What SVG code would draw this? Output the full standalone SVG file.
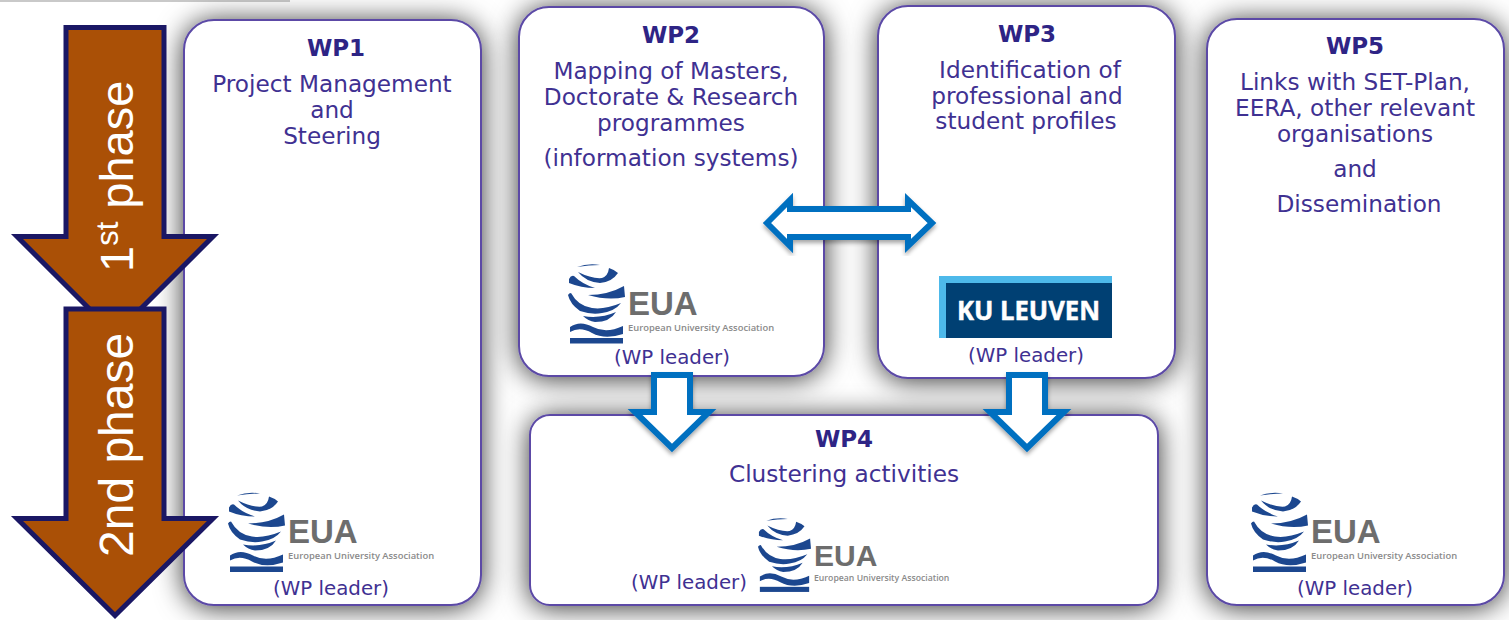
<svg xmlns="http://www.w3.org/2000/svg" xmlns:xlink="http://www.w3.org/1999/xlink" width="1509" height="620" viewBox="0 0 1509 620">
<style>
.box{fill:#fff;stroke:#5b4aa6;stroke-width:2;filter:url(#sh)}
.t{font-family:"DejaVu Sans",Verdana,sans-serif;text-anchor:middle;fill:#3f3192;font-size:23.2px}
.h{font-weight:700;fill:#2e2485;font-size:23px}
.l{font-size:19.800px}
.phase{fill:#aa5006;stroke:#1a1764;stroke-width:5;stroke-miterlimit:10}
.pt{font-family:"Liberation Sans",Arial,sans-serif;font-size:47px;fill:#fff}
.blue{fill:#fff;stroke:#0070c0;stroke-width:6;stroke-miterlimit:6;filter:url(#sh2)}
.eua{font-family:"Liberation Sans",Arial,sans-serif;font-weight:700;fill:#6d6d6d}
.eus{font-family:"Open Sans","Liberation Sans",sans-serif;font-weight:600;fill:#8a8a8a}
</style>
<defs>
<filter id="sh" x="-30%" y="-30%" width="160%" height="160%"><feDropShadow dx="0" dy="2" stdDeviation="14" flood-color="#000" flood-opacity=".8"/></filter>
<filter id="sh2" x="-20%" y="-20%" width="140%" height="140%"><feDropShadow dx="0" dy="3" stdDeviation="2" flood-color="#000" flood-opacity=".35"/></filter>
<g id="globe" fill="#1c478f">
<path d="M9 3Q20 -1 32 1Q21 1 9 3Z"/>
<path d="M10 8Q24 15 34 14Q40 12 41 4Q47 6 50 9Q44 18 32 19Q18 18 10 8Z"/>
<path d="M1 15Q3 11 6 12Q14 20 27 24Q13 24 1 19Z"/>
<path d="M20 31Q40 31 56 22L57 33Q40 37 20 31Z"/>
<path d="M0 31Q1 29 3 29Q10 42 24 44Q36 46 53 39Q47 47 34 49Q24 51 12 47Q2 40 0 31Z"/>
<path d="M15 52Q32 55 48 48Q42 58 27 58Q20 57 15 52Z"/>
<path d="M2 63Q12 56 25 63Q38 70 55 62L55 70Q37 76 24 69Q12 62 2 68Z"/>
<rect x="2" y="74" width="53" height="5.500"/>
</g>
</defs>
<rect width="1509" height="620" fill="#fff"/>
<rect x="0" y="0" width="290" height="2" fill="#c9c9c9"/>
<g id="wp1">
<rect class="box" x="184" y="20" width="297" height="585" rx="30"/>
<text class="t h" x="336" y="56">WP1</text>
<text class="t" x="332" y="92">Project Management</text>
<text class="t" x="332" y="118">and</text>
<text class="t" x="332" y="144">Steering</text>
<use xlink:href="#globe" href="#globe" transform="translate(228 492.500)"/>
<text class="eua" x="288" y="543" font-size="33">EUA</text>
<text class="eus" x="288" y="559" font-size="9.400">European University Association</text>
<text class="t l" x="331" y="595">(WP leader)</text>
</g>
<g id="wp2">
<rect class="box" x="519" y="7" width="305" height="369" rx="30"/>
<text class="t h" x="671" y="43">WP2</text>
<text class="t" x="671" y="79">Mapping of Masters,</text>
<text class="t" x="671" y="105">Doctorate &amp; Research</text>
<text class="t" x="671" y="131">programmes</text>
<text class="t" x="671" y="166">(information systems)</text>
<use xlink:href="#globe" href="#globe" transform="translate(568 264)"/>
<text class="eua" x="628" y="315" font-size="33">EUA</text>
<text class="eus" x="628" y="331" font-size="9.400">European University Association</text>
<text class="t l" x="672" y="364">(WP leader)</text>
</g>
<g id="wp3">
<rect class="box" x="878" y="6" width="297" height="372" rx="30"/>
<text class="t h" x="1027" y="42">WP3</text>
<text class="t" x="1030" y="78">Identification of</text>
<text class="t" x="1027" y="104">professional and</text>
<text class="t" x="1026" y="129">student profiles</text>
<rect x="939" y="276" width="173" height="62" fill="#4db9ea"/>
<rect x="946" y="283" width="166" height="55" fill="#004073"/>
<text x="957" y="320" font-family="'Open Sans','Liberation Sans',sans-serif" font-weight="700" font-size="26" fill="#fff" stroke="#fff" stroke-width=".5" textLength="143" lengthAdjust="spacingAndGlyphs">KU LEUVEN</text>
<text class="t l" x="1026" y="362">(WP leader)</text>
</g>
<g id="wp4">
<rect class="box" x="530" y="415" width="628" height="190" rx="20"/>
<text class="t h" x="844" y="447">WP4</text>
<text class="t" x="844" y="482">Clustering activities</text>
<use xlink:href="#globe" href="#globe" transform="translate(758 518) scale(.93)"/>
<text class="eua" x="814" y="566" font-size="30">EUA</text>
<text class="eus" x="814" y="581" font-size="8.700">European University Association</text>
<text class="t l" x="689" y="589">(WP leader)</text>
</g>
<g id="wp5">
<rect class="box" x="1207" y="19" width="297" height="586" rx="30"/>
<text class="t h" x="1355" y="54">WP5</text>
<text class="t" x="1355" y="90">Links with SET-Plan,</text>
<text class="t" x="1355" y="116">EERA, other relevant</text>
<text class="t" x="1355" y="142">organisations</text>
<text class="t" x="1355" y="177">and</text>
<text class="t" x="1359" y="212">Dissemination</text>
<use xlink:href="#globe" href="#globe" transform="translate(1251 492.500)"/>
<text class="eua" x="1311" y="543" font-size="33">EUA</text>
<text class="eus" x="1311" y="559" font-size="9.400">European University Association</text>
<text class="t l" x="1355" y="595">(WP leader)</text>
</g>
<g id="connectors">
<polygon class="blue" points="767,223 790,200 790,209 908,209 908,200 932,223 908,246 908,237 790,237 790,246"/>
<polygon class="blue" points="654,375 690,375 690,412 709,412 672,448 635,412 654,412"/>
<polygon class="blue" points="1009,375 1045,375 1045,412 1064,412 1027,448 990,412 1009,412"/>
</g>
<g id="phase1">
<polygon class="phase" points="66,27.500 164,27.500 164,236.500 213,236.500 115,334.500 17,236.500 66,236.500"/>
<text class="pt" transform="translate(133 272) rotate(-90)">1<tspan font-size="31" dy="-15">st</tspan><tspan dy="15"> phase</tspan></text>
</g>
<g id="phase2">
<polygon class="phase" points="66,309 164,309 164,518.500 213,518.500 115,615.500 17,518.500 66,518.500"/>
<text class="pt" font-size="48" style="font-size:48px" transform="translate(133 557) rotate(-90)">2nd phase</text>
</g>
</svg>
